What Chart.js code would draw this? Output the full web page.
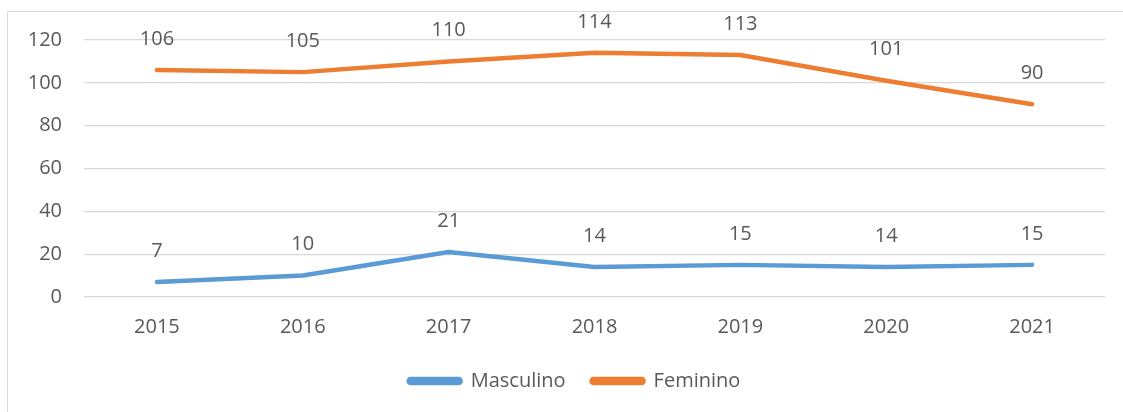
<!DOCTYPE html>
<html>
<head>
<meta charset="utf-8">
<script src="https://cdn.jsdelivr.net/npm/chart.js@4.4.0/dist/chart.umd.min.js"></script>
<style>
  html, body { margin: 0; padding: 0; background: #fff; overflow: hidden; }
  #box { position: absolute; left: 7px; top: 11px; width: 1130px; height: 410px;
         border: 1px solid #d9d9d9; box-sizing: border-box; }
  #wrap { position: absolute; left: 0; top: 0; width: 1116px; height: 401px; }
</style>
</head>
<body>
<div id="box"><div id="wrap"><canvas id="chart"></canvas></div></div>
<script>
const years = ["2015", "2016", "2017", "2018", "2019", "2020", "2021"];
const masculino = [7, 10, 21, 14, 15, 14, 15];
const feminino = [106, 105, 110, 114, 113, 101, 90];
const yTicks = [0, 20, 40, 60, 80, 100, 120];

const textColor = "#595959";
const font = "Open Sans";

// draws the value above each point
const valueLabels = {
  id: "valueLabels",
  afterDatasetsDraw(chart) {
    const ctx = chart.ctx;
    ctx.save();
    ctx.font = "20px '" + font + "'";
    ctx.fillStyle = textColor;
    ctx.textAlign = "center";
    ctx.textBaseline = "middle";
    chart.data.datasets.forEach((ds, i) => {
      chart.getDatasetMeta(i).data.forEach((pt, j) => {
        ctx.fillText(ds.data[j], pt.x, pt.y - 31);
      });
    });
    ctx.restore();
  }
};

// nudge the legend a bit to the right, like the original
const legendShift = {
  id: "legendShift",
  afterLayout(chart) {
    if (chart.legend) {
      chart.legend.left += 18;
      chart.legend.right += 18;
    }
  }
};

new Chart(document.getElementById("chart"), {
  type: "line",
  data: {
    labels: years,
    datasets: [
      {
        label: "Masculino",
        data: masculino,
        borderColor: "#5b9bd5",
        backgroundColor: "#5b9bd5",
        borderWidth: 4.5,
        borderCapStyle: "round",
        borderJoinStyle: "round",
        pointRadius: 0,
        tension: 0
      },
      {
        label: "Feminino",
        data: feminino,
        borderColor: "#ed7d31",
        backgroundColor: "#ed7d31",
        borderWidth: 4.5,
        borderCapStyle: "round",
        borderJoinStyle: "round",
        pointRadius: 0,
        tension: 0
      }
    ]
  },
  options: {
    responsive: true,
    maintainAspectRatio: false,
    animation: false,
    layout: { padding: { left: 0, top: 28, right: 19, bottom: 12 } },
    scales: {
      x: {
        offset: true,
        grid: { display: false, drawTicks: false },
        border: { display: false },
        ticks: { color: textColor, font: { family: font, size: 20 }, padding: 18, maxRotation: 0 },
        afterFit(scale) { scale.height = 48; }
      },
      y: {
        min: 0,
        max: 120,
        afterBuildTicks(scale) { scale.ticks = yTicks.map(v => ({ value: v })); },
        grid: { color: "#d9d9d9", lineWidth: 1.3, drawTicks: false },
        border: { display: false },
        ticks: { color: textColor, font: { family: font, size: 20 }, padding: 22 },
        afterFit(scale) {
          scale.width = 76;
          scale.paddingTop = 0;
          scale.paddingBottom = 0;
        }
      }
    },
    plugins: {
      legend: {
        position: "bottom",
        labels: {
          color: textColor,
          font: { family: font, size: 20 },
          boxWidth: 52,
          boxHeight: 4,
          useBorderRadius: true,
          borderRadius: 2,
          padding: 26
        }
      },
      tooltip: { enabled: false }
    }
  },
  plugins: [valueLabels, legendShift]
});
</script>
</body>
</html>
